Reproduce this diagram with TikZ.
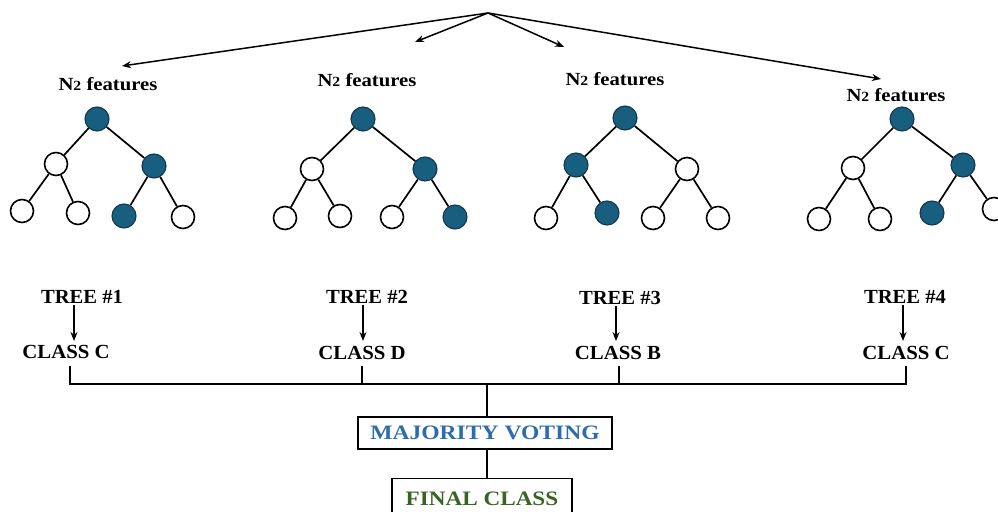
\documentclass[tikz,border=0pt]{standalone}
\usepackage{fontspec}
\setmainfont{Liberation Serif}
\usetikzlibrary{arrows.meta}
\definecolor{teal}{RGB}{24,94,126}
\definecolor{tealedge}{RGB}{18,55,75}
\definecolor{voteblue}{RGB}{46,108,176}
\definecolor{finalgreen}{RGB}{58,100,36}
\tikzset{
  leafon/.style={circle,draw=tealedge,fill=teal,line width=1.1pt,minimum size=24bp,inner sep=0pt},
  leafoff/.style={circle,draw=black,fill=white,line width=1.6pt,minimum size=23bp,inner sep=0pt},
  edge/.style={line width=1.7pt,black},
  feat/.style={font=\bfseries\fontsize{18.5bp}{20bp}\selectfont,inner sep=0pt},
  lbl/.style={font=\bfseries\fontsize{20bp}{22bp}\selectfont,inner sep=0pt},
  arr/.style={line width=1.5pt,-{Stealth[length=9bp,width=7bp]}},
  link/.style={line width=1.5pt},
  boxed/.style={draw,line width=1.5pt,font=\bfseries\fontsize{20.5bp}{22bp}\selectfont,inner sep=0pt}
}
\newcommand{\Ntwo}{\scalebox{1.12}[1]{N{\fontsize{14bp}{16bp}\selectfont 2} features}}
\newcommand{\wide}[2]{\scalebox{#1}[1]{#2}}
\begin{document}
\begin{tikzpicture}[x=1bp,y=-1bp]
\useasboundingbox (0,0) rectangle (998,512);

% split point and the four feature subsets
\coordinate (top) at (488,13);
\coordinate (a1) at (122,66);
\coordinate (a2) at (415,42);
\coordinate (a3) at (564,47);
\coordinate (a4) at (881,79);
\foreach \i in {1,...,4} \draw[arr] (top) -- (a\i);

\node[feat] (f1) at (108,84) {\Ntwo};
\node[feat] (f2) at (367,80) {\Ntwo};
\node[feat] (f3) at (615,79) {\Ntwo};
\node[feat] (f4) at (896,95) {\Ntwo};

% tree 1
\node[leafon]  (t1r)  at (97,119) {};
\node[leafoff] (t1a)  at (56,164) {};
\node[leafon]  (t1b)  at (154,166) {};
\node[leafoff] (t1c)  at (22,211) {};
\node[leafoff] (t1d)  at (78,213) {};
\node[leafon]  (t1e)  at (124,216) {};
\node[leafoff] (t1f)  at (183,217) {};
% tree 2
\node[leafon]  (t2r)  at (363,119) {};
\node[leafoff] (t2a)  at (312,169) {};
\node[leafon]  (t2b)  at (425,169) {};
\node[leafoff] (t2c)  at (285,218) {};
\node[leafoff] (t2d)  at (340,216) {};
\node[leafoff] (t2e)  at (392,217) {};
\node[leafon]  (t2f)  at (455,217) {};
% tree 3
\node[leafon]  (t3r)  at (625,118) {};
\node[leafon]  (t3a)  at (576,165) {};
\node[leafoff] (t3b)  at (687,169) {};
\node[leafoff] (t3c)  at (546,218) {};
\node[leafon]  (t3d)  at (607,213) {};
\node[leafoff] (t3e)  at (653,218) {};
\node[leafoff] (t3f)  at (718,218) {};
% tree 4
\node[leafon]  (t4r)  at (902,119) {};
\node[leafoff] (t4a)  at (853,168) {};
\node[leafon]  (t4b)  at (963,165) {};
\node[leafoff] (t4c)  at (819,219) {};
\node[leafoff] (t4d)  at (880,219) {};
\node[leafon]  (t4e)  at (932,213) {};
\node[leafoff] (t4f)  at (994,209) {};

\foreach \t in {1,...,4} {
  \draw[edge] (t\t r) -- (t\t a);
  \draw[edge] (t\t r) -- (t\t b);
  \draw[edge] (t\t a) -- (t\t c);
  \draw[edge] (t\t a) -- (t\t d);
  \draw[edge] (t\t b) -- (t\t e);
  \draw[edge] (t\t b) -- (t\t f);
}

% tree outputs
\node[lbl] (n1) at (82,297) {\wide{1.03}{TREE \#1}};
\node[lbl] (n2) at (367,297) {\wide{1.03}{TREE \#2}};
\node[lbl] (n3) at (620,298) {\wide{1.03}{TREE \#3}};
\node[lbl] (n4) at (905,297) {\wide{1.03}{TREE \#4}};
\node[lbl] (c1) at (66,352) {\wide{1.04}{CLASS C}};
\node[lbl] (c2) at (362,353) {\wide{1.04}{CLASS D}};
\node[lbl] (c3) at (618,353) {\wide{1.04}{CLASS B}};
\node[lbl] (c4) at (906,353) {\wide{1.04}{CLASS C}};

\coordinate (d1) at (74,341);
\coordinate (d2) at (363,341);
\coordinate (d3) at (616,341);
\coordinate (d4) at (903,341);
\foreach \i in {1,...,4}
  \draw[arr] (n\i.south -| d\i) ++(0,1) -- (d\i);

% voting
\node[boxed,text=voteblue,minimum width=254bp,minimum height=32bp] (mv) at (485,433) {\wide{1.15}{MAJORITY VOTING}};
\node[boxed,text=finalgreen,minimum width=180bp,minimum height=40bp,anchor=north] (fc) at (482,478) {\raisebox{-1bp}{\wide{1.13}{FINAL CLASS}}};

\coordinate (bus) at (487,384);
\foreach \x/\i in {70/1,362/2,619/3,906/4} \coordinate (u\i) at (\x,366);
\draw[link] (u1) |- (u4 |- bus) -- (u4);
\foreach \i in {2,3} \draw[link] (u\i) -- (u\i |- bus);
\draw[link] (bus) -- (mv.north -| bus);
\draw[link] (mv.south -| bus) -- (fc.north -| bus);
\end{tikzpicture}
\end{document}
